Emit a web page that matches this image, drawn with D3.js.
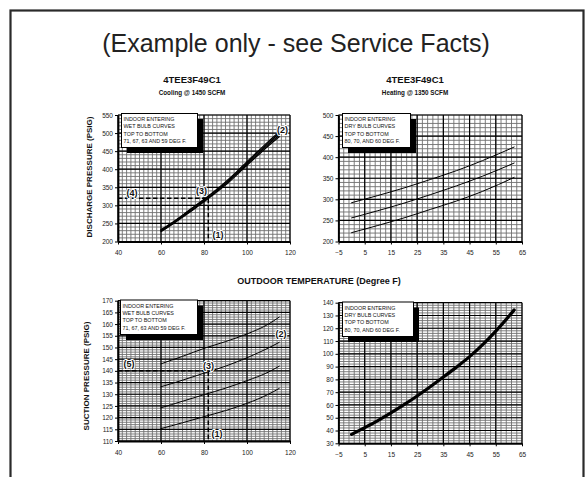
<!DOCTYPE html>
<html><head><meta charset="utf-8">
<script src="https://cdn.jsdelivr.net/npm/d3@7"></script>
<style>body{margin:0;background:#fff} svg{display:block}</style>
</head><body><svg id="c" width="586" height="477"></svg>
<script>
// ---------- DATA ----------
const coolTemps = [60,65,70,75,80,85,90,95,100,105,110,115];
const coolDisch71 = [233,252,273,295,317,340,365,392,421,449,477,503];
const coolDisch67 = [231,250,271,293,315,338,362,389,418,446,473,499];
const coolDisch63 = [229,248,269,290,312,335,359,386,414,442,469,494];
const coolDisch59 = [227,246,267,288,310,333,356,383,411,438,465,490];

const heatTemps = [0,10,20,30,40,50,62];
const heatDisch80 = [292,309,327,347,368,392,424];
const heatDisch70 = [256,273,291,311,332,355,386];
const heatDisch60 = [221,238,256,276,296,319,352];

const coolSuctTemps = [60,70,80,90,100,110,115];
const coolSuct71 = [143,146.2,149.6,152.5,155.8,160,163];
const coolSuct67 = [133.2,136,139,142,145.6,149.8,152.2];
const coolSuct63 = [124.2,127,129.8,132.6,135.8,139.5,142];
const coolSuct59 = [115.3,117.8,120.4,123,126.1,130,132.5];

const heatSuctTemps = [0,5,10,15,20,25,30,35,40,45,50,55,60,62];
const heatSuct = [37,42.3,47.8,53.8,60.2,67,74.2,81.8,89.6,97.8,107.2,117.8,129.4,134.3];

const coolXTicks = [40,60,80,100,120];
const heatXTicks = [-5,5,15,25,35,45,55,65];
const coolDischYTicks = [200,250,300,350,400,450,500,550];
const heatDischYTicks = [200,250,300,350,400,450,500];
const coolSuctYTicks = [110,115,120,125,130,135,140,145,150,155,160,165,170];
const heatSuctYTicks = [30,40,50,60,70,80,90,100,110,120,130,140];

const legendCool = ["INDOOR ENTERING","WET BULB CURVES","TOP TO BOTTOM","71, 67, 63 AND 59 DEG F."];
const legendHeat = ["INDOOR ENTERING","DRY BULB CURVES","TOP TO BOTTOM","80, 70, AND 60 DEG F."];

const refTemp = 82;           // (1)
const refDischarge = 320;     // (4)
const refSuction = 140;       // (5)

const mainTitle = "(Example only - see Service Facts)";
const model = "4TEE3F49C1";
const coolSub = "Cooling @ 1450 SCFM";
const heatSub = "Heating @ 1350 SCFM";
const xTitle = "OUTDOOR TEMPERATURE (Degree F)";
const yTitleDisch = "DISCHARGE PRESSURE (PSIG)";
const yTitleSuct = "SUCTION PRESSURE (PSIG)";

// ---------- DRAW ----------
const svg = d3.select("#c");
const FONT = "'Liberation Sans', Arial, Helvetica, sans-serif";

svg.append("rect").attr("x",10.5).attr("y",10.5).attr("width",573).attr("height",490)
  .attr("fill","none").attr("stroke","#2a2a2a").attr("stroke-width",2.2);

svg.append("text").attr("x",296).attr("y",52).attr("text-anchor","middle")
  .attr("font-family",FONT).attr("font-size",25).attr("fill","#222").text(mainTitle);

function panel(o){
  const x = d3.scaleLinear().domain(o.xd).range(o.xr);
  const y = d3.scaleLinear().domain(o.yd).range(o.yr);
  const g = svg.append("g");
  // minor grid
  const xm = d3.range(o.xd[0], o.xd[1]+1e-9, o.xMinor);
  const ym = d3.range(o.yd[0], o.yd[1]+1e-9, o.yMinor);
  g.selectAll(".vx").data(xm).join("line")
    .attr("x1",d=>x(d)).attr("x2",d=>x(d)).attr("y1",o.yr[0]).attr("y2",o.yr[1])
    .attr("stroke","#6f6f6f").attr("stroke-width",0.9);
  g.selectAll(".hy").data(ym).join("line")
    .attr("y1",d=>y(d)).attr("y2",d=>y(d)).attr("x1",o.xr[0]).attr("x2",o.xr[1])
    .attr("stroke","#6f6f6f").attr("stroke-width",0.9);
  // major grid
  g.selectAll(".Vx").data(o.xTicks).join("line")
    .attr("x1",d=>x(d)).attr("x2",d=>x(d)).attr("y1",o.yr[0]).attr("y2",o.yr[1])
    .attr("stroke","#000").attr("stroke-width",1.2);
  g.selectAll(".Hy").data(o.yTicks).join("line")
    .attr("y1",d=>y(d)).attr("y2",d=>y(d)).attr("x1",o.xr[0]).attr("x2",o.xr[1])
    .attr("stroke","#000").attr("stroke-width",1.2);
  // axes
  const ax = g.append("g").attr("transform",`translate(0,${o.yr[0]})`)
    .call(d3.axisBottom(x).tickValues(o.xTicks).tickSize(3).tickSizeOuter(0).tickPadding(6));
  const ay = g.append("g").attr("transform",`translate(${o.xr[0]},0)`)
    .call(d3.axisLeft(y).tickValues(o.yTicks).tickSize(3).tickSizeOuter(0).tickPadding(2));
  [ax,ay].forEach(a=>{
    a.select(".domain").attr("stroke","#000").attr("stroke-width",1.8);
    a.selectAll(".tick line").attr("stroke","#000");
    a.selectAll("text").attr("font-family",FONT).attr("font-size",6.5).attr("fill","#222");
  });
  // legend box
  const b = o.box;
  g.append("rect").attr("x",b[0]+6).attr("y",b[1]+6).attr("width",b[2]).attr("height",b[3]).attr("fill","#000");
  g.append("rect").attr("x",b[0]+0.5).attr("y",b[1]+0.5).attr("width",b[2]).attr("height",b[3])
    .attr("fill","#fff").attr("stroke","#000").attr("stroke-width",1);
  g.selectAll(".lt").data(o.legend).join("text")
    .attr("x",b[0]+2.5).attr("y",(d,i)=>b[1]+8+i*7.4)
    .attr("font-family",FONT).attr("font-size",5.4).attr("fill","#111").text(d=>d);
  // reference dashed lines
  if(o.ref){
    g.append("path")
      .attr("d",`M${x(o.xd[0])},${y(o.ref)}H${x(refTemp)}V${y(o.yd[0])}`)
      .attr("fill","none").attr("stroke","#000").attr("stroke-width",1.5).attr("stroke-dasharray","4.5,2.5");
  }
  // curves
  const line = d3.line().x(d=>x(d[0])).y(d=>y(d[1])).curve(d3.curveMonotoneX);
  o.series.forEach(s=>{
    g.append("path").datum(o.temps.map((t,i)=>[t,s[i]])).attr("d",line)
      .attr("fill","none").attr("stroke","#000").attr("stroke-width",o.lw).attr("stroke-linecap","round");
  });
  // annotations
  (o.notes||[]).forEach(n=>{
    g.append("text").attr("x",x(n[1])).attr("y",y(n[2])).attr("text-anchor","middle")
      .attr("dominant-baseline","central")
      .attr("font-family",FONT).attr("font-size",9).attr("font-weight","bold")
      .attr("fill","#111").attr("stroke","#fff").attr("stroke-width",2).attr("stroke-linejoin","round")
      .attr("paint-order","stroke").text(n[0]);
  });
  return {x,y};
}

panel({xd:[40,120], xr:[118,290], yd:[200,550], yr:[241.5,115], xMinor:2, yMinor:10,
  xTicks:coolXTicks, yTicks:coolDischYTicks, box:[121,113,76,34], legend:legendCool,
  ref:refDischarge, temps:coolTemps, series:[coolDisch71,coolDisch67,coolDisch63,coolDisch59], lw:1.2,
  notes:[["(4)",46.5,334],["(3)",78.8,340],["(2)",116.5,508],["(1)",86.5,218]]});

panel({xd:[-5,65], xr:[338.5,522], yd:[200,500], yr:[241.5,115], xMinor:2, yMinor:10,
  xTicks:heatXTicks, yTicks:heatDischYTicks, box:[342,113,68,34], legend:legendHeat,
  temps:heatTemps, series:[heatDisch80,heatDisch70,heatDisch60], lw:1});

panel({xd:[40,120], xr:[118,290], yd:[110,170], yr:[441,300.7], xMinor:2, yMinor:1,
  xTicks:coolXTicks, yTicks:coolSuctYTicks, box:[120,299.5,77,34.5], legend:legendCool,
  ref:refSuction, temps:coolSuctTemps, series:[coolSuct71,coolSuct67,coolSuct63,coolSuct59], lw:1,
  notes:[["(5)",45.1,142.8],["(3)",82.1,142],["(2)",115.8,155.7],["(1)",86,112.9]]});

panel({xd:[-5,65], xr:[338.5,522], yd:[30,140], yr:[443.3,302.7], xMinor:2, yMinor:2,
  xTicks:heatXTicks, yTicks:heatSuctYTicks, box:[342,301.5,71,34.5], legend:legendHeat,
  temps:heatSuctTemps, series:[heatSuct], lw:3.2});

// titles
const tt = [[192,model,83,9.5],[192,coolSub,95,6.3],[415,model,83,9.5],[415,heatSub,95,6.3]];
tt.forEach(t=>svg.append("text").attr("x",t[0]).attr("y",t[2]).attr("text-anchor","middle")
  .attr("font-family",FONT).attr("font-weight","bold").attr("font-size",t[3]).attr("fill","#111").text(t[1]));
svg.append("text").attr("x",319).attr("y",284).attr("text-anchor","middle")
  .attr("font-family",FONT).attr("font-weight","bold").attr("font-size",9).attr("fill","#111").text(xTitle);
[[89,177,yTitleDisch],[86.5,376,yTitleSuct]].forEach(t=>
  svg.append("text").attr("transform",`translate(${t[0]},${t[1]}) rotate(-90)`)
    .attr("text-anchor","middle").attr("dominant-baseline","central")
    .attr("font-family",FONT).attr("font-weight","bold").attr("font-size",8).attr("fill","#111").text(t[2]));
</script></body></html>
